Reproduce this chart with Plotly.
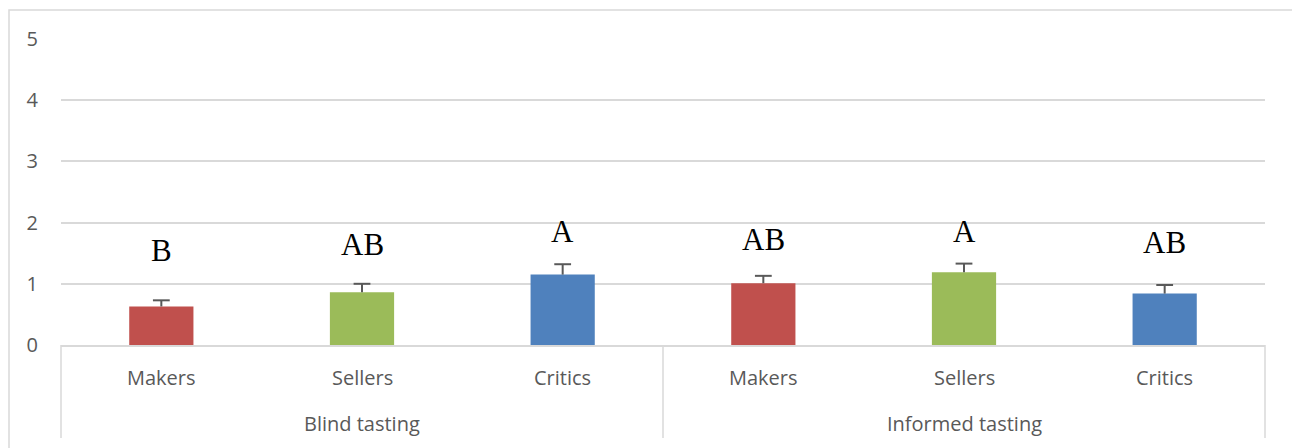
import plotly.graph_objects as go

conditions = ["Blind tasting", "Blind tasting", "Blind tasting",
              "Informed tasting", "Informed tasting", "Informed tasting"]
groups = ["Makers", "Sellers", "Critics", "Makers", "Sellers", "Critics"]
means = [0.63, 0.86, 1.15, 1.01, 1.19, 0.84]
errors = [0.10, 0.14, 0.17, 0.12, 0.14, 0.14]
letters = ["B", "AB", "A", "AB", "A", "AB"]
letter_y = [1.54, 1.65, 1.86, 1.73, 1.85, 1.68]
y_ticks = [0, 1, 2, 3, 4, 5]
group_names = ["Blind tasting", "Informed tasting"]

colors = {"Makers": "#C0504D", "Sellers": "#9BBB59", "Critics": "#4F81BD"}
bar_colors = [colors[g] for g in groups]

OFF = 8  # page body margin
W, H = 1300, 448
ml, mt = 61 - OFF, 39 - OFF
pw, ph = 1204, 306
mr = W - ml - pw
mb = H - mt - ph

GRID = "#D9D9D9"
TXT = "#595959"

fig = go.Figure()
fig.add_trace(go.Bar(
    x=[conditions, groups],
    y=means,
    marker=dict(color=bar_colors, line=dict(width=0)),
    width=0.32,
    error_y=dict(type="data", array=errors, symmetric=False, arrayminus=[0] * 6,
                 color=TXT, thickness=2, width=0),
    showlegend=False,
    hoverinfo="y",
))
# error caps (top only)
fig.add_trace(go.Scatter(
    x=[conditions, groups],
    y=[m + e for m, e in zip(means, errors)],
    mode="markers",
    marker=dict(symbol="line-ew", size=12, line=dict(color=TXT, width=2)),
    showlegend=False, hoverinfo="skip",
))

for c, g, t, ly in zip(conditions, groups, letters, letter_y):
    fig.add_annotation(x=[c, g], y=ly, text=t, showarrow=False,
                       font=dict(family="Liberation Serif", size=31, color="#000000"),
                       xanchor="center", yanchor="middle")


def py(pix):
    # reference page pixel y -> paper y
    return ((mt + ph) - (pix - OFF)) / ph


def px(pix):
    return ((pix - OFF) - ml) / pw


# category labels
for c, g in zip(conditions, groups):
    fig.add_annotation(x=[c, g], y=py(377), yref="paper", text=g, showarrow=False,
                       xanchor="center", yanchor="middle",
                       font=dict(family="Open Sans", size=20, color=TXT))
for i, gname in enumerate(group_names):
    fig.add_annotation(x=0.25 + 0.5 * i, xref="paper", y=py(423), yref="paper",
                       text=gname, showarrow=False, xanchor="center", yanchor="middle",
                       font=dict(family="Open Sans", size=20, color=TXT))

# dividers of the category axis
for xp in [0, 0.5, 1]:
    fig.add_shape(type="line", xref="paper", yref="paper",
                  x0=xp, x1=xp, y0=py(345), y1=py(438),
                  line=dict(color=GRID, width=1.5))

# outer chart border
fig.add_shape(type="rect", xref="paper", yref="paper",
              x0=px(9), x1=px(1293), y0=py(470), y1=py(10),
              line=dict(color=GRID, width=1.5), layer="below")

fig.update_layout(
    width=W, height=H,
    margin=dict(l=ml, r=mr, t=mt, b=mb, autoexpand=False),
    paper_bgcolor="white", plot_bgcolor="white",
    font=dict(family="Open Sans", size=20, color=TXT),
)
fig.update_xaxes(
    type="multicategory",
    showline=True, linecolor=GRID, linewidth=1.5,
    showdividers=False, showticklabels=False,
    ticks="", showgrid=False,
)
fig.update_yaxes(
    range=[0, 5], tickvals=y_ticks,
    showgrid=True, gridcolor=GRID, gridwidth=1.5,
    zeroline=False, showline=False, ticks="",
    ticklabelstandoff=22,
    tickfont=dict(family="Open Sans", size=20, color=TXT),
)

fig.write_html("out.html")
